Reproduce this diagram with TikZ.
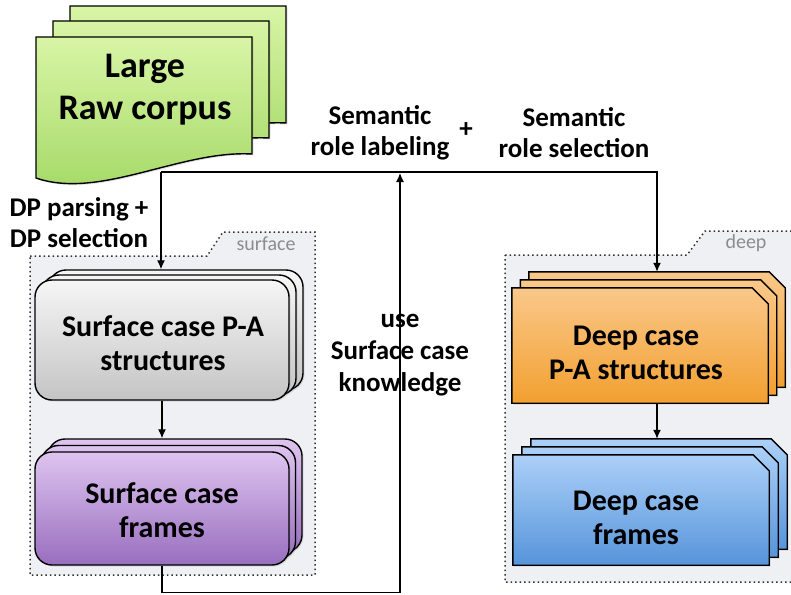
\documentclass[tikz,border=0pt]{standalone}
\usepackage{fontspec}
\setmainfont{Carlito}
\usetikzlibrary{arrows.meta,shadows,calc}

\definecolor{grpfill}{RGB}{238,240,244}
\definecolor{grpline}{RGB}{50,50,50}
\definecolor{grplabel}{RGB}{140,140,140}

% sheet of a stacked document with a wavy lower edge
\newcommand\docsheet[2]{%
  \path[docfill, shift={(#1,#2)}] (36,37) -- (252,37) -- (252,154)
    .. controls (180,150) and (100,200) .. (36,178) -- cycle;}
% box with a snipped upper right corner, laid over a named node
\newcommand\snipped[2]{%
  \path[#2] (#1.south west) -- (#1.north west) -- ($(#1.north east)+(-16,0)$)
    -- ($(#1.north east)+(0,16)$) -- (#1.south east) -- cycle;}

\begin{document}
\begin{tikzpicture}[x=1pt,y=-1pt,
  outline/.style={draw=black, line width=1.4pt},
  shade/.style={drop shadow={opacity=0.22, shadow xshift=1.5pt, shadow yshift=-1.5pt}},
  docfill/.style={outline, shade, top color={rgb,255:red,216;green,245;blue,166}, bottom color={rgb,255:red,163;green,216;blue,100}},
  grayfill/.style={outline, shade, top color={rgb,255:red,246;green,246;blue,246}, bottom color={rgb,255:red,196;green,196;blue,196}},
  purplefill/.style={outline, shade, top color={rgb,255:red,222;green,196;blue,240}, bottom color={rgb,255:red,152;green,110;blue,190}},
  orangefill/.style={outline, shade, top color={rgb,255:red,250;green,200;blue,138}, bottom color={rgb,255:red,242;green,160;blue,48}},
  bluefill/.style={outline, shade, top color={rgb,255:red,172;green,208;blue,248}, bottom color={rgb,255:red,86;green,148;blue,218}},
  rbox/.style={rounded corners=17pt, minimum width=254pt, inner sep=0pt},
  frame/.style={draw=none, inner sep=0pt},
  group/.style={fill=grpfill, draw=grpline, line width=1.5pt, dash pattern=on 1.5pt off 3pt},
  grouplabel/.style={font=\fontsize{20}{24}\selectfont, text=grplabel},
  boxtext/.style={font=\fontsize{30}{34}\selectfont\bfseries, align=center},
  lbl/.style={font=\fontsize{27}{31}\selectfont\bfseries, align=center},
  flow/.style={draw=black, line width=1.3pt, -{Latex[length=9pt,width=8pt]}},
]
\useasboundingbox (0,0) rectangle (791,594);

% dotted group areas
\path[group] (30,256) -- (207,256) -- (223,232) -- (315,232) -- (315,575) -- (30,575) -- cycle;
\node[grouplabel] (surfacelbl) at (266,244) {surface};
\path[group] (505,255) -- (687,255) -- (705,231) -- (795,231) -- (795,582) -- (505,582) -- cycle;
\node[grouplabel] (deeplbl) at (746,243) {deep};

% raw corpus: three stacked sheets
\docsheet{34}{-31}
\docsheet{17}{-16}
\docsheet{0}{0}
\node[font=\fontsize{36}{42}\selectfont\bfseries, align=center] (corpus) at (145,90) {Large\\Raw corpus};
\coordinate (docout) at (161,172);

% surface case predicate-argument structures
\node[rbox, grayfill, minimum height=120pt] (spa3) at (176,330) {};
\node[rbox, grayfill, minimum height=120pt] (spa2) at (169,335) {};
\node[rbox, grayfill, minimum height=120pt] (spa1) at (162,340) {};
\node[boxtext] (spa1t) at (163,343) {Surface case P-A\\structures};

% surface case frames
\node[rbox, purplefill, minimum height=113pt] (sfr3) at (175,495.5) {};
\node[rbox, purplefill, minimum height=113pt] (sfr2) at (168.5,502) {};
\node[rbox, purplefill, minimum height=113pt] (sfr1) at (162,508.5) {};
\node[boxtext] (sfr1t) at (162,510) {Surface case\\frames};

% deep case predicate-argument structures
\node[frame, minimum width=256pt, minimum height=115pt] (dpa3) at (657,329.5) {};
\snipped{dpa3}{orangefill}
\node[frame, minimum width=256pt, minimum height=115pt] (dpa2) at (648.5,337.5) {};
\snipped{dpa2}{orangefill}
\node[frame, minimum width=256pt, minimum height=115pt] (dpa1) at (640,345.5) {};
\snipped{dpa1}{orangefill}
\node[boxtext] (dpa1t) at (636,353) {Deep case\\P-A structures};

% deep case frames
\node[frame, minimum width=256pt, minimum height=110pt] (dfr3) at (659,494) {};
\snipped{dfr3}{bluefill}
\node[frame, minimum width=256pt, minimum height=110pt] (dfr2) at (650,502) {};
\snipped{dfr2}{bluefill}
\node[frame, minimum width=256pt, minimum height=110pt] (dfr1) at (641,510) {};
\snipped{dfr1}{bluefill}
\node[boxtext] (dfr1t) at (636,518) {Deep case\\frames};

% process labels
\node[lbl] (dplbl) at (79,223) {DP parsing +\\DP selection};
\node[lbl] (srl) at (380,133) {Semantic\\role labeling};
\node[lbl] (plus) at (466,130) {+};
\node[lbl] (srs) at (574,133) {Semantic\\role selection};
\node[lbl, font=\fontsize{27}{32}\selectfont\bfseries] (uselbl) at (400,355) {use\\Surface case\\knowledge};

% connectors
\coordinate (join) at (400,173);
\path[flow] (docout) -- (docout |- spa3.north);
\path[flow] (docout) -| (dpa3.north);
\path[flow] (spa1.south) -- (spa1.south |- sfr3.north);
\path[flow] (dpa3.center |- dpa1.south) -- (dpa3.center |- dfr3.north);
\path[flow] (sfr1.south) -- ++(0,27) -| (join);
\end{tikzpicture}
\end{document}
